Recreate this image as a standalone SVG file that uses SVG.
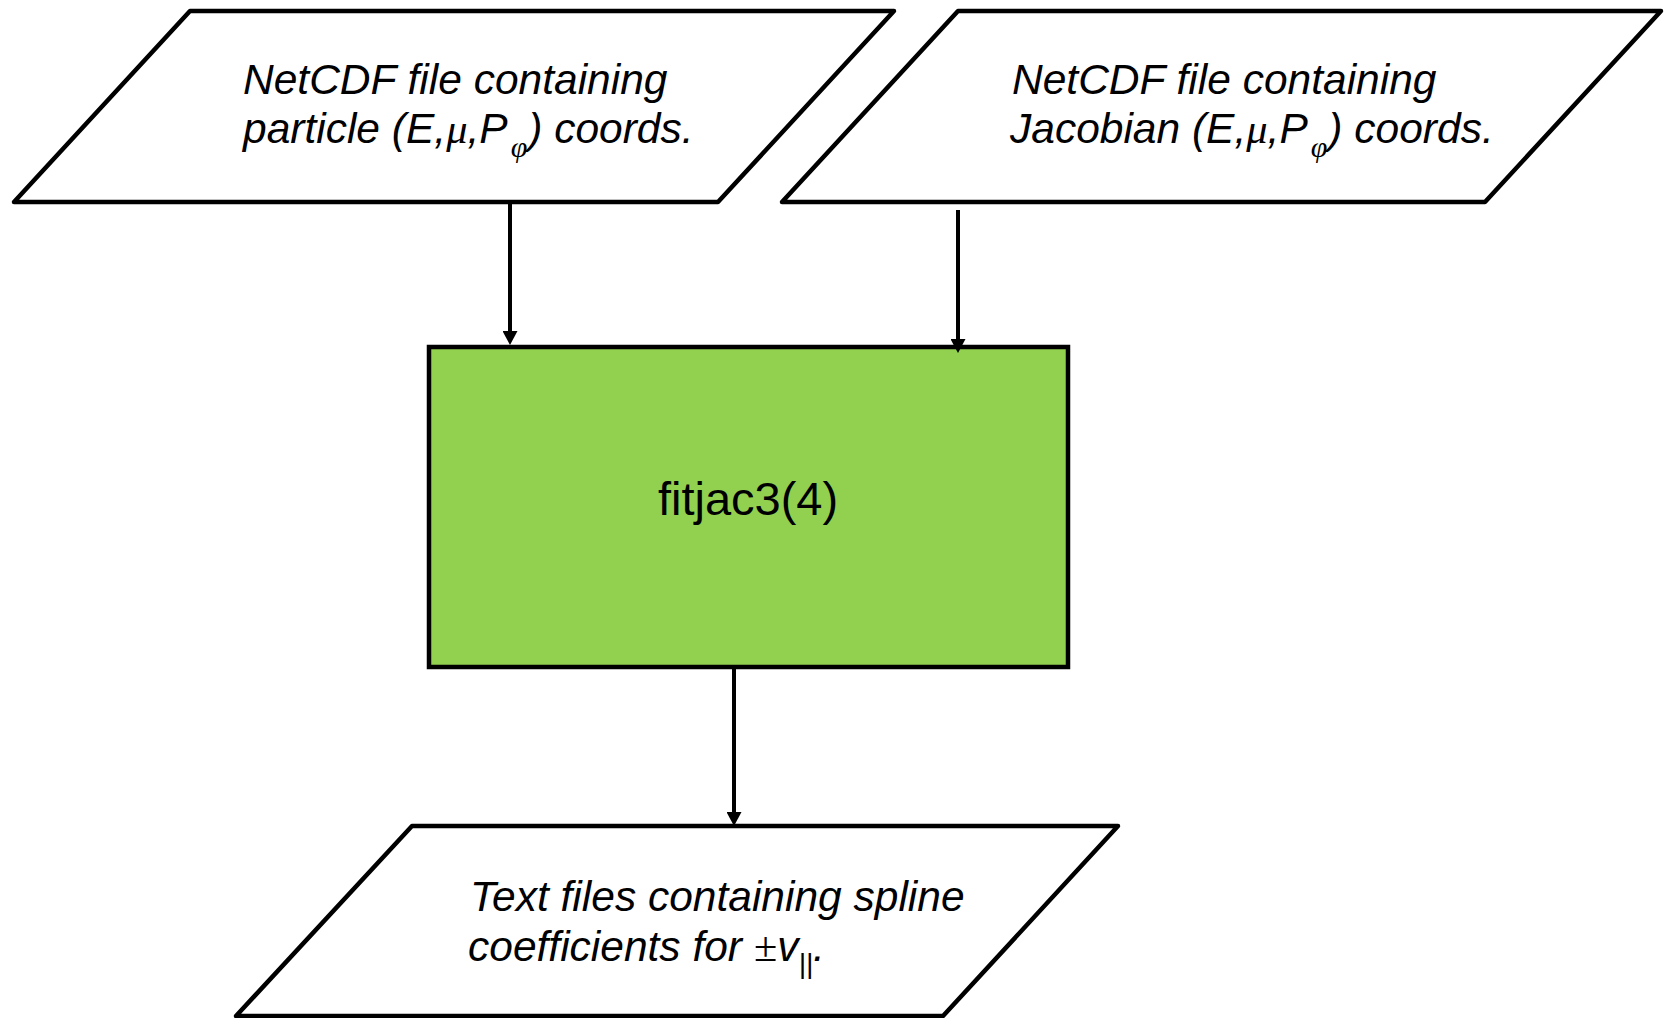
<svg xmlns="http://www.w3.org/2000/svg" width="1667" height="1018" viewBox="0 0 1667 1018">
<style>
.io{fill:#ffffff;stroke:#000000;stroke-width:4.5;stroke-linejoin:round}
.proc{fill:#92D050;stroke:#000000;stroke-width:4.5}
.lbl{font-family:"Liberation Sans",Arial,sans-serif;font-style:italic;font-size:42.5px;fill:#000000}
.sym{font-family:"Liberation Serif","Times New Roman",serif;font-style:italic}
.main{font-family:"Liberation Sans",Arial,sans-serif;font-size:47px;fill:#000000}
.conn{stroke:#000000;stroke-width:4;fill:none}
</style>
<defs>
<marker id="arr" viewBox="0 0 14 15" refX="2" refY="7.5" markerWidth="14" markerHeight="15" markerUnits="userSpaceOnUse" orient="auto">
<path d="M0,0 L14,7.5 L0,15 z" fill="#000000"/>
</marker>
</defs>
<rect width="1667" height="1018" fill="#ffffff"/>
<g id="input-particle">
<polygon class="io" points="190,11 894,11 718,202 14,202"/>
<text class="lbl" x="243" y="94">NetCDF file containing</text>
<text class="lbl" x="243" y="143">particle (E,<tspan class="sym">μ</tspan>,P<tspan class="sym" font-size="30" dx="3" dy="14">φ</tspan><tspan dx="1" dy="-14">) coords.</tspan></text>
</g>
<g id="input-jacobian">
<polygon class="io" points="958,11 1661,11 1485,202 782,202"/>
<text class="lbl" x="1012" y="94">NetCDF file containing</text>
<text class="lbl" x="1010" y="143">Jacobian (E,<tspan class="sym">μ</tspan>,P<tspan class="sym" font-size="30" dx="3" dy="14">φ</tspan><tspan dx="1" dy="-14">) coords.</tspan></text>
</g>
<g id="fitjac">
<rect class="proc" x="429" y="347" width="639" height="320"/>
<text class="main" x="748" y="515" text-anchor="middle">fitjac3(4)</text>
</g>
<g id="output-spline">
<polygon class="io" points="412,826 1118,826 943,1016 236,1016"/>
<text class="lbl" x="470" y="911">Text files containing spline</text>
<text class="lbl" x="468" y="961">coefficients for <tspan class="sym">±</tspan>v<tspan font-size="28" dy="12">||</tspan><tspan dy="-12">.</tspan></text>
</g>
<g id="connectors">
<line class="conn" x1="510" y1="202" x2="510" y2="333" marker-end="url(#arr)"/>
<line class="conn" x1="958" y1="210" x2="958" y2="341" marker-end="url(#arr)"/>
<line class="conn" x1="734" y1="667" x2="734" y2="814" marker-end="url(#arr)"/>
</g>
</svg>
